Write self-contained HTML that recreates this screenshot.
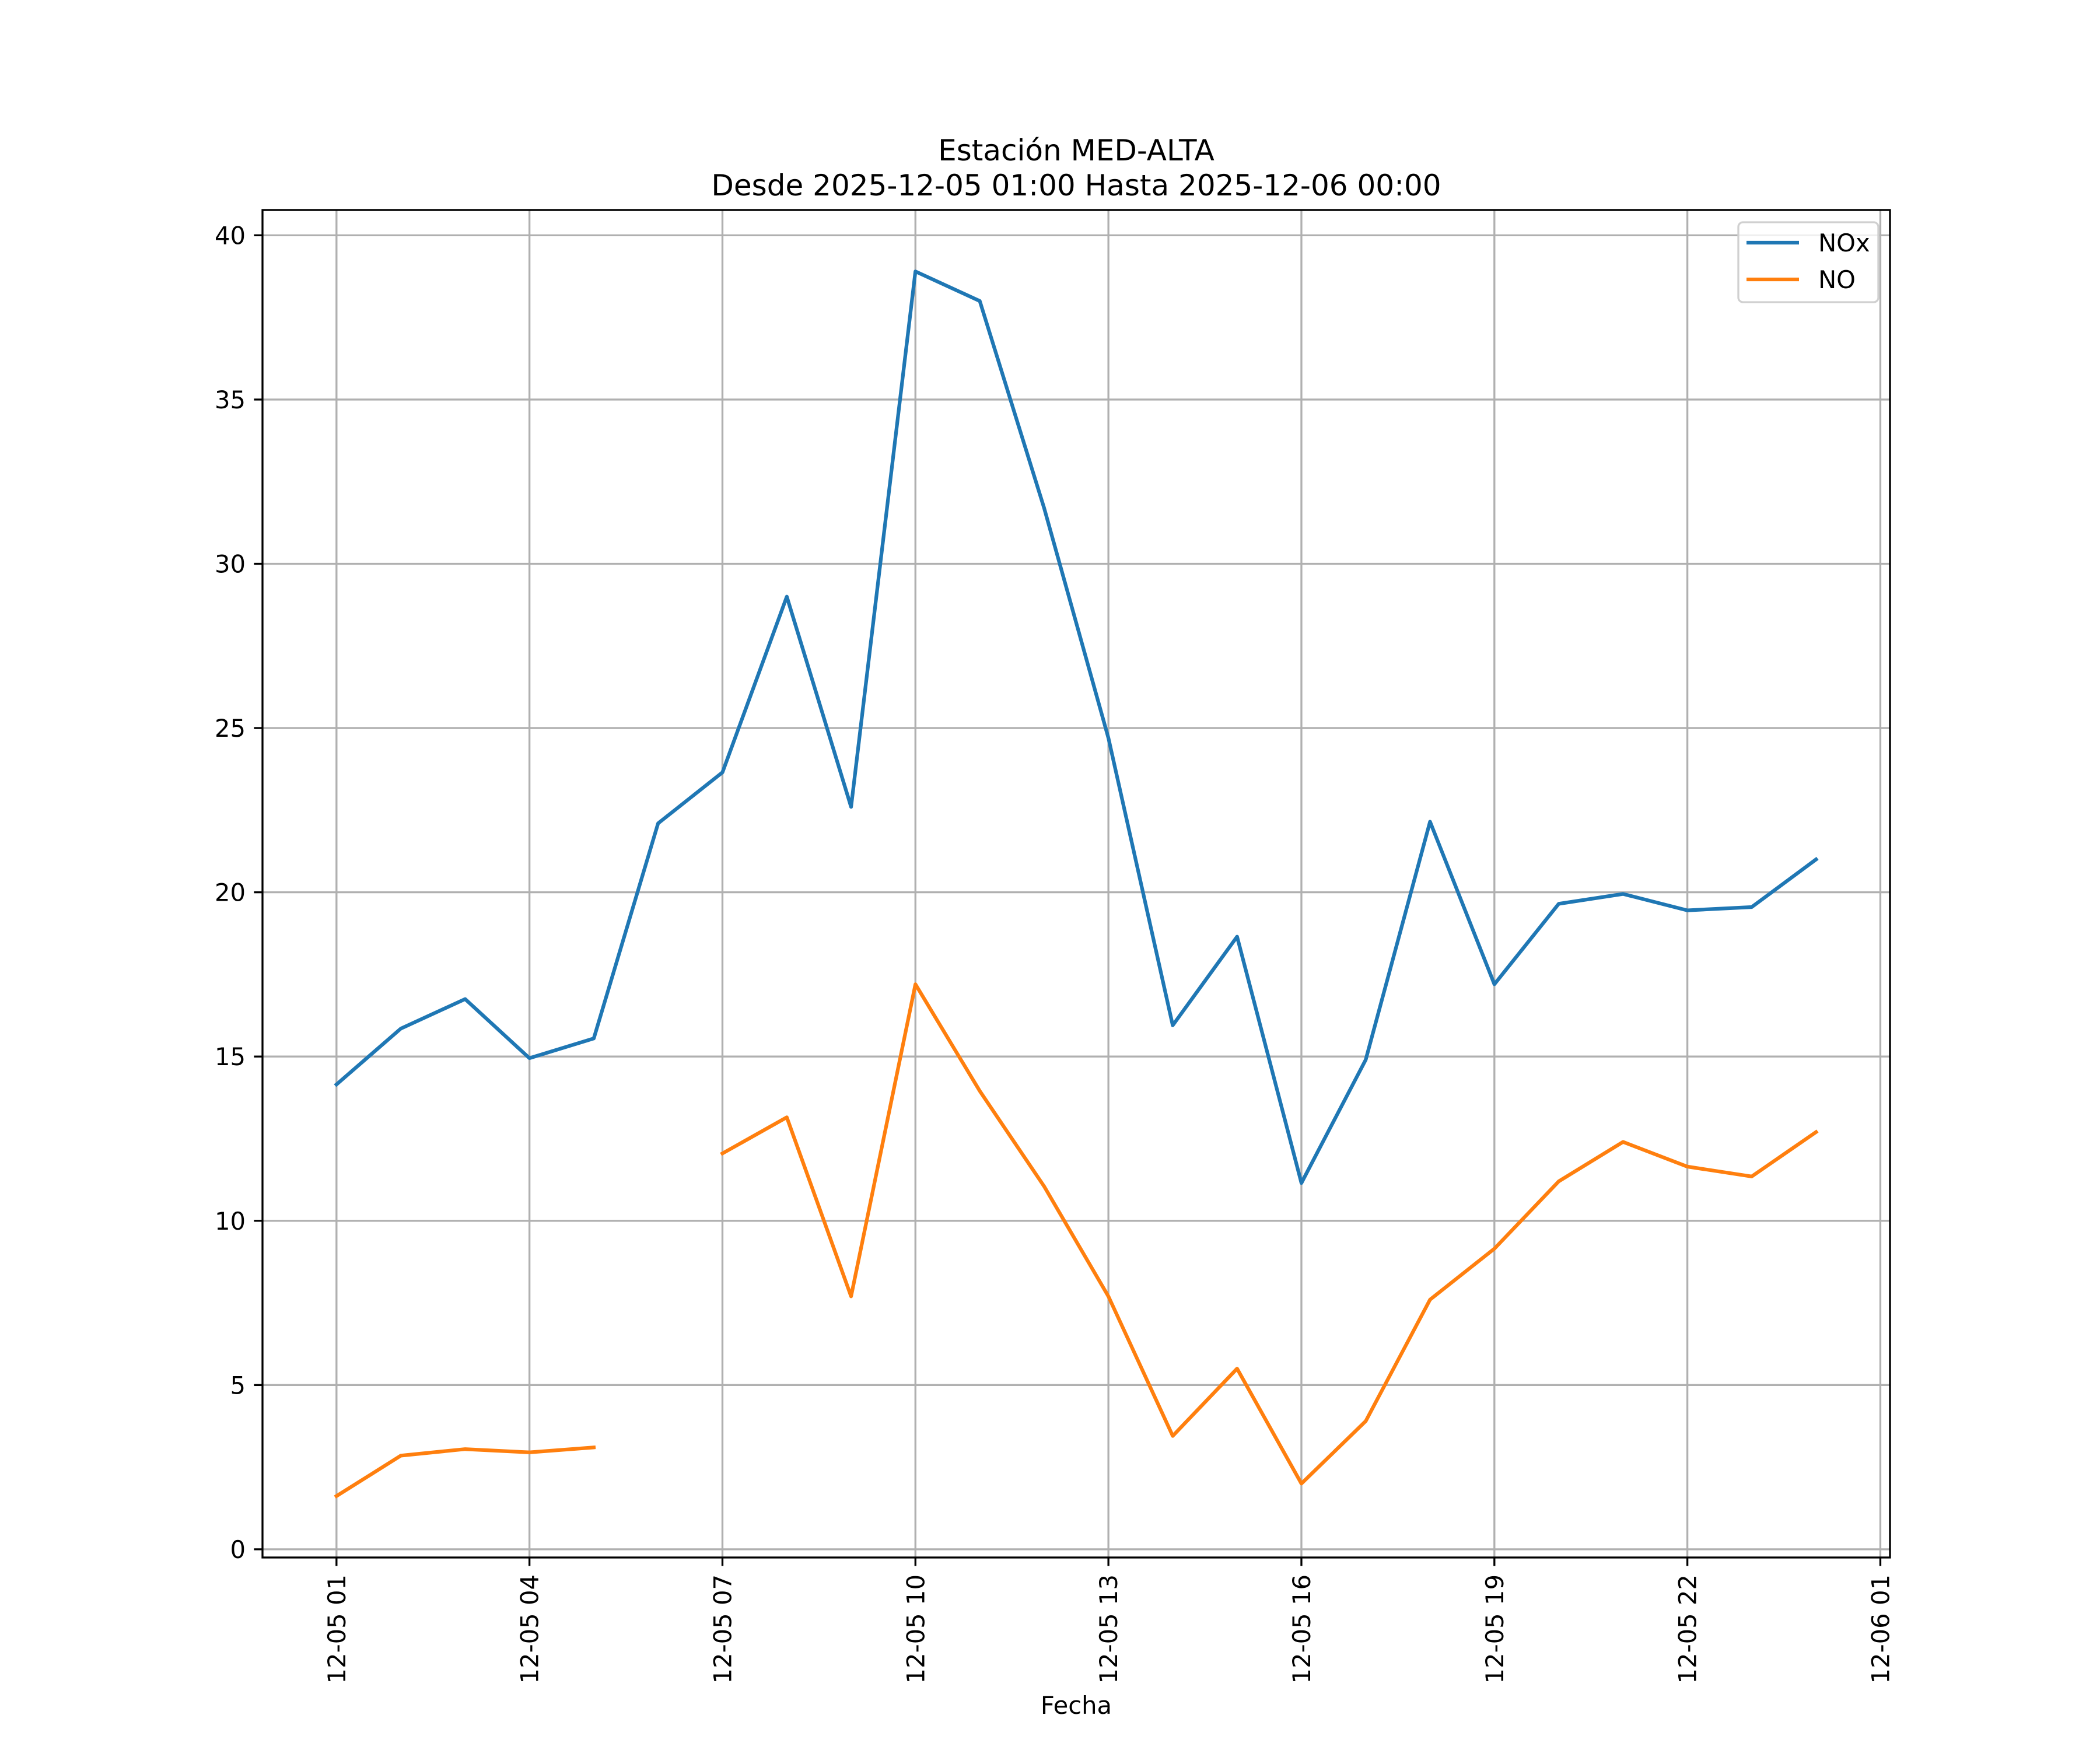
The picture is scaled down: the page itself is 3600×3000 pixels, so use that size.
<!DOCTYPE html>
<html><head><meta charset="utf-8"><style>
html,body{margin:0;padding:0;background:#fff;}
svg{display:block;font-family:"DejaVu Sans","Liberation Sans",sans-serif;}
</style></head><body>
<svg id="chart" width="3600" height="3000" viewBox="0 0 3600 3000" xmlns="http://www.w3.org/2000/svg">
<rect width="3600" height="3000" fill="#fff"/>
<text x="1845" y="275" font-size="50" text-anchor="middle">Estación MED-ALTA</text>
<text x="1845" y="335" font-size="50" text-anchor="middle">Desde 2025-12-05 01:00 Hasta 2025-12-06 00:00</text>
<g id="grid"></g>
<g id="series"></g>
<rect x="450" y="360" width="2790" height="2310" fill="none" stroke="#000" stroke-width="3.33"/>
<g id="ticks"></g>
<text x="1845" y="2938" font-size="41.7" text-anchor="middle">Fecha</text>
<g>
<rect x="2980" y="381" width="240" height="137" rx="8" fill="#fff" fill-opacity="0.8" stroke="#d0d0d0" stroke-width="3.33"/>
<line x1="2994" y1="416" x2="3084" y2="416" stroke="#1f77b4" stroke-width="6.25"/>
<text x="3117" y="431" font-size="41.7">NOx</text>
<line x1="2994" y1="479" x2="3084" y2="479" stroke="#ff7f0e" stroke-width="6.25"/>
<text x="3117" y="494" font-size="41.7">NO</text>
</g>
</svg>
<script>
const hours = ["01","02","03","04","05","06","07","08","09","10","11","12","13","14","15","16","17","18","19","20","21","22","23","00"];
const noxValues = [14.15,15.85,16.75,14.95,15.55,22.1,23.65,29.0,22.6,38.9,38.0,31.7,24.7,15.95,18.65,11.15,14.9,22.15,17.2,19.65,19.95,19.45,19.55,21.0];
const noValues = [1.62,2.85,3.05,2.95,3.1,null,12.05,13.15,7.7,17.2,13.95,11.05,7.7,3.45,5.5,2.0,3.9,7.6,9.15,11.2,12.4,11.65,11.35,12.7];
const yTicks = [0,5,10,15,20,25,30,35,40];
const xTickHours = [0,3,6,9,12,15,18,21,24];
const xTickLabels = ["12-05 01","12-05 04","12-05 07","12-05 10","12-05 13","12-05 16","12-05 19","12-05 22","12-06 01"];

const NS="http://www.w3.org/2000/svg";
const L=450,R=3240,T=360,B=2670;
const xMin=-1.15,xMax=24.15,yMin=-0.25,yMax=40.77;
function xs(h){return L+(h-xMin)/(xMax-xMin)*(R-L);}
function ys(v){return B-(v-yMin)/(yMax-yMin)*(B-T);}
function mk(tag,attrs,parent){const e=document.createElementNS(NS,tag);for(const k in attrs)e.setAttribute(k,attrs[k]);parent.appendChild(e);return e;}
const grid=document.getElementById('grid'),ticks=document.getElementById('ticks'),series=document.getElementById('series');

yTicks.forEach(v=>{
  const y=ys(v);
  const g=mk('line',{x1:L,x2:R,y1:y,y2:y,stroke:'#b0b0b0','stroke-width':3.33},grid);
  
  
  const t=mk('line',{x1:L-14.6,x2:L,y1:y,y2:y,stroke:'#000','stroke-width':3.33},ticks);
  
  
  const lb=mk('text',{x:L-29,y:y+15,'font-size':41.7,'text-anchor':'end'},ticks);
  
  
  lb.textContent=String(v);
});
xTickHours.forEach((h,i)=>{
  const x=xs(h);
  const g=mk('line',{x1:x,x2:x,y1:T,y2:B,stroke:'#b0b0b0','stroke-width':3.33},grid);
  
  
  const t=mk('line',{x1:x,x2:x,y1:B,y2:B+14.6,stroke:'#000','stroke-width':3.33},ticks);
  
  
  const lb=mk('text',{x:0,y:0,'font-size':41.7,'text-anchor':'end',transform:`translate(${x+15},${B+29}) rotate(-90)`},ticks);
  
  
  lb.textContent=xTickLabels[i];
});
function drawSeries(vals,color,name){
  let segs=[],cur=[];
  vals.forEach((v,i)=>{if(v===null){if(cur.length)segs.push(cur);cur=[];}else cur.push(xs(i).toFixed(1)+','+ys(v).toFixed(1));});
  if(cur.length)segs.push(cur);
  segs.forEach(s=>{
    const p=mk('polyline',{points:s.join(' '),fill:'none',stroke:color,'stroke-width':6.25,'stroke-linejoin':'round','stroke-linecap':'square'},series);
    
    
  });
}
drawSeries(noxValues,'#1f77b4','nox-line');
drawSeries(noValues,'#ff7f0e','no-line');
</script>
</body></html>
